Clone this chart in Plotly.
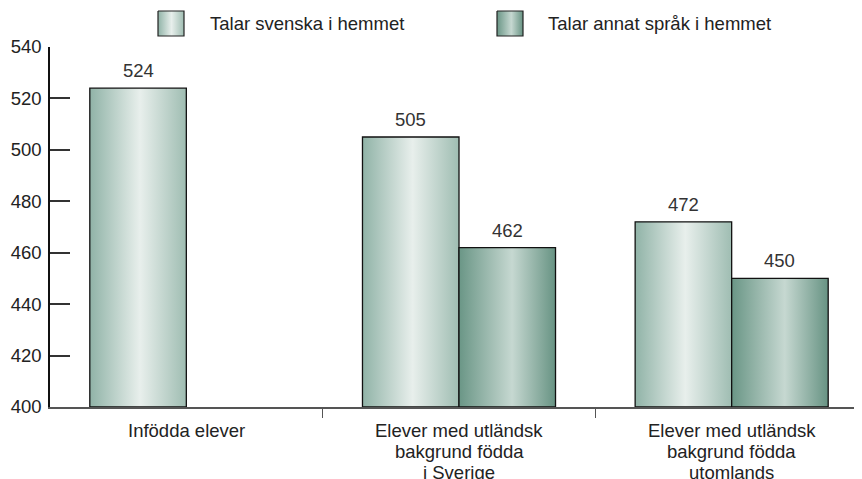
import plotly.graph_objects as go

# ---- data ----
categories = [
    "Infödda elever",
    "Elever med utländsk<br>bakgrund födda<br>i Sverige",
    "Elever med utländsk<br>bakgrund födda<br>utomlands",
]
series_names = ["Talar svenska i hemmet", "Talar annat språk i hemmet"]
svenska = [524, 505, 472]
annat = [None, 462, 450]
y_ticks = [400, 420, 440, 460, 480, 500, 520, 540]

# ---- styling ----
OFF = 8                      # browser body margin
W, H = 862 - OFF, 479 - OFF
ML, MR, MT, MB = 50 - OFF, 0, 10 - OFF, 479 - 407
plot_h = H - MT - MB
plot_top_px = 47 - OFF
main_dom_top = (H - MB - plot_top_px) / plot_h
FONT = "Liberation Sans, Arial, sans-serif"
FS = 18.5
LINE_GAP = 20.8              # spacing of category label lines
FIRST_LINE = 23.5            # first label line centre below the axis
scales = [
    [[0, "#90b3a7"], [0.52, "#e8efec"], [1, "#9fbdb2"]],
    [[0, "#6a9686"], [0.55, "#c6d8d1"], [1, "#679383"]],
]
bar_w = 0.354
offsets = [-bar_w / 2, bar_w / 2]

fig = go.Figure()

values = [svenska, annat]
for s, vals in enumerate(values):
    for i, v in enumerate(vals):
        if v is None:
            continue
        xc = i + offsets[s]
        x0, x1 = xc - bar_w / 2, xc + bar_w / 2
        fig.add_trace(go.Scatter(
            x=[x0, x1, x1, x0, x0], y=[y_ticks[0], y_ticks[0], v, v, y_ticks[0]],
            mode="lines", fill="toself",
            line=dict(color="#111111", width=1.3),
            fillgradient=dict(type="horizontal", colorscale=scales[s]),
            showlegend=False, hoverinfo="skip",
        ))
        fig.add_annotation(
            x=xc, y=v, xref="x", yref="y", text=str(v), showarrow=False,
            xanchor="center", yanchor="bottom", yshift=5,
            font=dict(size=FS, color="#333333", family=FONT),
        )

# ---- category labels (one text per line to match the tight line spacing) ----
for i, label in enumerate(categories):
    for k, line in enumerate(label.split("<br>")):
        fig.add_annotation(
            x=i, y=0, xref="x", yref="paper", text=line, showarrow=False,
            xanchor="center", yanchor="middle", yshift=-(FIRST_LINE + k * LINE_GAP),
            font=dict(size=FS, color="#222222", family=FONT),
        )

# ---- legend (drawn on a helper axis scaled in page pixels) ----
legend_boxes = [(158, 184), (497, 523)]
legend_text_x = [208, 546]
leg_top, leg_bot = 10, 40
for s, (a, b) in enumerate(legend_boxes):
    fig.add_trace(go.Scatter(
        x=[a, b, b, a, a], y=[11, 11, 36, 36, 11], xaxis="x2", yaxis="y2",
        mode="lines", fill="toself", line=dict(color="#222222", width=1.2),
        fillgradient=dict(type="horizontal", colorscale=scales[s]),
        showlegend=False, hoverinfo="skip",
    ))
    fig.add_annotation(x=legend_text_x[s], y=23.5, xref="x2", yref="y2",
                       text=series_names[s], showarrow=False, xanchor="left",
                       yanchor="middle", font=dict(size=FS, color="#222222", family=FONT))

fig.update_layout(
    width=W, height=H,
    margin=dict(l=ML, r=MR, t=MT, b=MB, autoexpand=False),
    paper_bgcolor="white", plot_bgcolor="white",
    showlegend=False,
    font=dict(family=FONT, size=FS, color="#222222"),
    xaxis=dict(
        range=[-0.5, 2.478], tickmode="array", tickvals=[0, 1, 2],
        showticklabels=False,
        ticks="", showgrid=False, zeroline=False, automargin=False,
        showline=True, linecolor="#555555", linewidth=2,
        minor=dict(tickmode="array", tickvals=[0.5, 1.5], ticks="outside",
                   ticklen=9, tickwidth=1.2, tickcolor="#555555", showgrid=False),
    ),
    yaxis=dict(
        domain=[0, main_dom_top], range=[400, 540], tickmode="array", tickvals=y_ticks,
        ticks="inside", ticklen=20, tickwidth=1.5, tickcolor="#333333",
        showline=True, linecolor="#111111", linewidth=1.5,
        showgrid=False, zeroline=False, automargin=False,
        tickfont=dict(size=FS, color="#222222"), ticklabelstandoff=3,
    ),
    xaxis2=dict(domain=[0, 1], range=[ML + OFF, W + OFF], visible=False, anchor="y2",
                automargin=False),
    yaxis2=dict(domain=[(H - MB - (leg_bot - OFF)) / plot_h, 1], range=[leg_bot, leg_top],
                visible=False, anchor="x2", automargin=False),
)

fig.write_html("out.html")
